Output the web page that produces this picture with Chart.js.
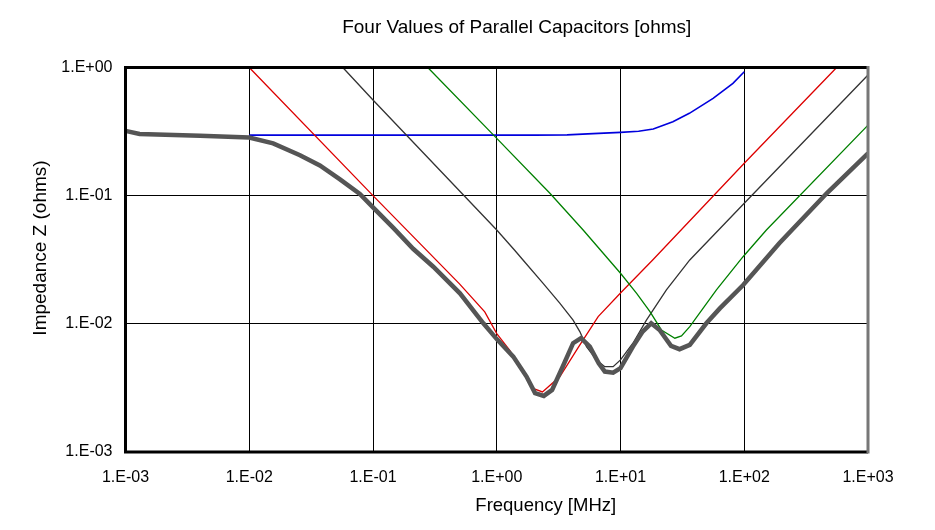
<!DOCTYPE html>
<html><head><meta charset="utf-8">
<script src="https://cdn.jsdelivr.net/npm/chart.js@4/dist/chart.umd.min.js"></script>
<style>html,body{margin:0;padding:0;background:#fff}canvas{display:block}</style>
</head><body>
<canvas id="c" width="935" height="530"></canvas>
<script>
const chartTitle = 'Four Values of Parallel Capacitors [ohms]';
const xTitle = 'Frequency [MHz]';
const yTitle = 'Impedance Z (ohms)';
const xTicks = [0.001, 0.01, 0.1, 1, 10, 100, 1000];
const yTicks = [0.001, 0.01, 0.1, 1];

const totalFreq = [0.001, 0.0013, 0.004, 0.01, 0.0156, 0.0257, 0.0372, 0.0541, 0.0783, 0.1, 0.146, 0.211, 0.307, 0.504, 0.779, 1.0, 1.36, 1.74, 2.04, 2.40, 2.80, 3.41, 4.14, 4.80, 5.65, 6.67, 7.47, 8.72, 10, 12.6, 15.1, 17.7, 20.7, 25.6, 30.0, 36.3, 49.4, 63.5, 98, 192, 464, 1000];
const totalZ = [0.32, 0.303, 0.294, 0.284, 0.256, 0.207, 0.172, 0.134, 0.103, 0.081, 0.056, 0.0385, 0.0279, 0.0173, 0.0101, 0.0076, 0.00555, 0.00388, 0.00288, 0.00274, 0.00305, 0.00463, 0.00706, 0.00773, 0.00664, 0.00493, 0.00424, 0.00416, 0.00451, 0.00664, 0.0087, 0.0101, 0.00896, 0.00673, 0.00634, 0.00685, 0.0101, 0.0132, 0.0201, 0.0425, 0.1044, 0.214];

const blueFreq = [0.01, 0.1, 1, 2, 3.7, 6, 10, 14, 18.4, 26.5, 36, 56, 81, 100];
const blueZ = [0.297, 0.297, 0.297, 0.297, 0.298, 0.305, 0.312, 0.318, 0.331, 0.378, 0.439, 0.575, 0.753, 0.927];

const redFreq = [0.01, 0.1, 0.5, 0.8, 1, 1.27, 1.94, 2.34, 3.24, 4.6, 6.6, 10, 18.2, 100, 558];
const redZ = [1, 0.1, 0.0205, 0.0124, 0.0084, 0.00625, 0.00315, 0.00294, 0.00388, 0.00664, 0.0114, 0.0174, 0.0315, 0.179, 1];

const blackFreq = [0.057, 0.1, 1, 1.39, 1.63, 2.37, 3.23, 4.14, 4.69, 5.31, 6.4, 7.47, 8.72, 10, 12.6, 16.2, 23.5, 36.3, 100, 1000];
const blackZ = [1, 0.558, 0.054, 0.0377, 0.0315, 0.0207, 0.0145, 0.0107, 0.0087, 0.00664, 0.00523, 0.00463, 0.00463, 0.00523, 0.00706, 0.0107, 0.0184, 0.0315, 0.0873, 0.874];

const greenFreq = [0.277, 1, 2.7, 4.99, 10, 13.5, 17.3, 21.4, 27.5, 31.1, 36.3, 59.6, 97.8, 151, 1000];
const greenZ = [1, 0.28, 0.104, 0.054, 0.0248, 0.0173, 0.01245, 0.00896, 0.00772, 0.00805, 0.0095, 0.0184, 0.0334, 0.054, 0.355];

const pts = (fs, zs) => fs.map((f, i) => ({x: f, y: zs[i]}));
const fmt = v => { const e = Math.round(Math.log10(v)); return '1.E' + (e < 0 ? '-' : '+') + String(Math.abs(e)).padStart(2, '0'); };
const FONT = '"Liberation Sans", Arial, Helvetica, sans-serif';

const decor = {
  id: 'decor',
  afterDatasetsDraw(chart) {
    const {ctx, chartArea: a} = chart;
    ctx.save();
    ctx.lineWidth = 3;
    ctx.strokeStyle = '#000';
    ctx.beginPath();
    ctx.moveTo(a.right, a.top); ctx.lineTo(a.left, a.top); ctx.lineTo(a.left, a.bottom); ctx.lineTo(a.right, a.bottom);
    ctx.stroke();
    ctx.strokeStyle = '#777';
    ctx.beginPath(); ctx.moveTo(a.right, a.top - 1.5); ctx.lineTo(a.right, a.bottom + 1.5); ctx.stroke();
    ctx.restore();
  },
  afterDraw(chart) {
    const {ctx, chartArea: a} = chart;
    const cx = (a.left + a.right) / 2;
    ctx.save();
    ctx.fillStyle = '#000';
    ctx.textAlign = 'center'; ctx.textBaseline = 'middle';
    ctx.font = '19px ' + FONT;
    ctx.fillText(chartTitle, cx + 20, 28);
    ctx.font = '18.5px ' + FONT;
    ctx.fillText(xTitle, cx + 49, 506);
    ctx.font = '19px ' + FONT;
    ctx.translate(41, 248);
    ctx.rotate(-Math.PI / 2);
    ctx.fillText(yTitle, 0, 0);
    ctx.restore();
  }
};

const ds = (label, fs, zs, color, w) => ({
  label, data: pts(fs, zs), borderColor: color, borderWidth: w,
  pointRadius: 0, tension: 0, fill: false, clip: 0
});

new Chart(document.getElementById('c'), {
  type: 'line',
  data: {
    datasets: [
      ds('Total', totalFreq, totalZ, '#555555', 4.5),
      ds('C4', greenFreq, greenZ, '#008000', 1.3),
      ds('C3', blackFreq, blackZ, '#333333', 1.3),
      ds('C2', redFreq, redZ, '#dd0000', 1.3),
      ds('C1', blueFreq, blueZ, '#0000dd', 1.6)
    ]
  },
  options: {
    responsive: false, animation: false,
    layout: {padding: {left: 0, right: 67, top: 67.5, bottom: 0}},
    plugins: {legend: {display: false}, tooltip: {enabled: false}, title: {display: false}},
    scales: {
      x: {
        type: 'logarithmic', min: 0.001, max: 1000,
        afterBuildTicks(s) { s.ticks = xTicks.map(v => ({value: v})); },
        afterFit(s) { s.height = 78; },
        grid: {color: '#000', lineWidth: 1, drawTicks: false},
        border: {display: false},
        ticks: {padding: 16, color: '#000', font: {family: FONT, size: 16}, callback: fmt, maxRotation: 0, autoSkip: false}
      },
      y: {
        type: 'logarithmic', min: 0.001, max: 1,
        afterBuildTicks(s) { s.ticks = yTicks.map(v => ({value: v})); },
        afterFit(s) { s.width = 125.5; },
        grid: {color: '#000', lineWidth: 1, drawTicks: false},
        border: {display: false},
        ticks: {padding: 13, color: '#000', font: {family: FONT, size: 16}, callback: fmt, autoSkip: false}
      }
    }
  },
  plugins: [decor]
});
</script>
</body></html>
